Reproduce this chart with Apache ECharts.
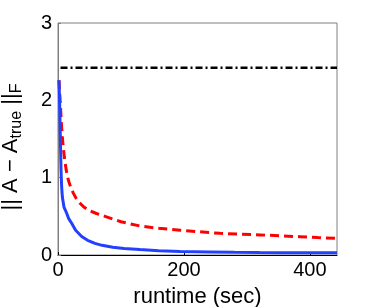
<!DOCTYPE html>
<html>
<head>
<meta charset="utf-8">
<script src="https://cdn.jsdelivr.net/npm/echarts@6/dist/echarts.min.js"></script>
<style>html,body{margin:0;padding:0;background:#fff}#c{width:372px;height:307px}</style>
</head>
<body>
<div id="c"></div>
<script>
var xTicks = [0, 200, 400];
var yTicks = [0, 1, 2, 3];

var blueX = [1.6, 2.6, 3.7, 4.8, 5.8, 6.9, 9.5, 13.8, 17, 21.7, 28, 37.6, 47, 58.7, 70, 87, 105, 130, 160, 194, 240, 280, 320, 360, 400, 443];
var blueY = [2.26, 1.96, 1.53, 1.10, 0.88, 0.75, 0.62, 0.54, 0.47, 0.41, 0.32, 0.24, 0.19, 0.15, 0.125, 0.10, 0.085, 0.07, 0.055, 0.045, 0.04, 0.035, 0.032, 0.03, 0.029, 0.028];

var redX = [1.6, 2.6, 3.7, 5.2, 6.8, 8.3, 10, 13, 16.4, 20, 24.3, 29, 35, 41, 48, 60, 74.6, 100, 130, 160, 194, 225, 257, 290, 321, 352, 384, 412, 443];
var redY = [2.26, 2.1, 1.96, 1.72, 1.53, 1.40, 1.27, 1.10, 0.97, 0.88, 0.80, 0.73, 0.67, 0.62, 0.58, 0.54, 0.50, 0.43, 0.375, 0.345, 0.32, 0.30, 0.28, 0.27, 0.26, 0.248, 0.237, 0.225, 0.215];

var blackX = [4, 443];
var blackY = [2.42, 2.42];

function zip(a, b) { return a.map(function (v, i) { return [v, b[i]]; }); }

var FONT = 'Liberation Sans';
var chart = echarts.init(document.getElementById('c'));
chart.setOption({
  animation: false,
  grid: { left: 58, top: 23, right: 35, bottom: 52, show: true, borderColor: '#808080', borderWidth: 1,
    containLabel: false, outerBoundsMode: 'none' },
  xAxis: {
    type: 'value', min: 0, max: 443, interval: 200,
    name: 'runtime (sec)', nameLocation: 'middle', nameGap: 31,
    nameTextStyle: { fontFamily: FONT, fontSize: 22, color: '#000' },
    axisLine: { lineStyle: { color: '#000', width: 1 } },
    axisTick: { inside: true, length: 3, lineStyle: { color: '#000' } },
    axisLabel: { fontFamily: FONT, fontSize: 20, color: '#000', margin: 5, showMaxLabel: false,
      formatter: function (v) { return xTicks.indexOf(v) >= 0 ? String(v) : ''; } },
    splitLine: { show: false }
  },
  yAxis: {
    type: 'value', min: 0, max: 3, interval: 1,
    name: '|| A \u2212 A{sub|true} ||{sub|F}', nameLocation: 'middle', nameGap: 33, nameRotate: 90,
    nameTextStyle: { fontFamily: FONT, fontSize: 22, color: '#000', padding: [0, 16, 0, 0],
      rich: { sub: { fontFamily: FONT, fontSize: 16, color: '#000', verticalAlign: 'bottom', padding: [12, 0, 0, 0] } } },
    axisLine: { lineStyle: { color: '#808080', width: 1 } },
    axisTick: { inside: true, length: 3, lineStyle: { color: '#808080' } },
    axisLabel: { fontFamily: FONT, fontSize: 20, color: '#000', margin: 6,
      formatter: function (v) { return yTicks.indexOf(v) >= 0 ? String(v) : ''; } },
    splitLine: { show: false }
  },
  series: [
    { type: 'line', data: zip(blackX, blackY), symbol: 'none',
      lineStyle: { color: '#000', width: 2.5, type: [7, 3, 2, 3] } },
    { type: 'line', data: zip(redX, redY), symbol: 'none',
      lineStyle: { color: '#ff0000', width: 3, type: [9, 5] } },
    { type: 'line', data: zip(blueX, blueY), symbol: 'none',
      lineStyle: { color: '#2340ff', width: 3 } }
  ]
});
</script>
</body>
</html>
